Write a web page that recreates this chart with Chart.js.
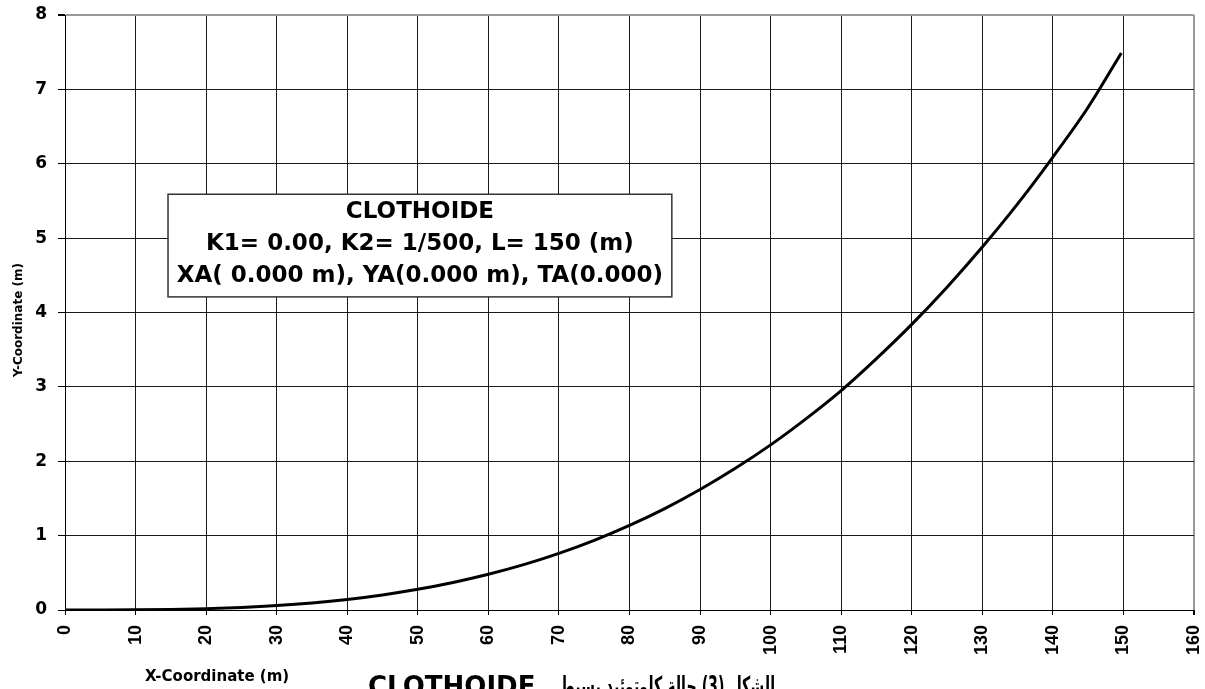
<!DOCTYPE html>
<html>
<head>
<meta charset="utf-8">
<title>Clothoide</title>
<script src="https://cdn.jsdelivr.net/npm/chart.js@4.4.1/dist/chart.umd.min.js"></script>
<style>
  html, body { margin: 0; padding: 0; background: #fff; }
  canvas { display: block; }
</style>
</head>
<body>
<canvas id="clothoidChart" width="1205" height="689"></canvas>
<script>
// values (x in m, y in m)
var xValues = [0, 5, 10, 15, 20, 25, 30, 35, 40, 45, 50, 55, 60, 65, 70, 75,
               80, 85, 90, 95, 100, 105, 110, 115, 120, 125, 130, 135, 140, 145, 149.7];
var yValues = [0, 0.0003, 0.002, 0.008, 0.018, 0.035, 0.06, 0.095, 0.142, 0.203, 0.278, 0.37, 0.48, 0.61, 0.762, 0.937,
               1.138, 1.364, 1.62, 1.905, 2.22, 2.57, 2.95, 3.38, 3.84, 4.34, 4.88, 5.46, 6.09, 6.76, 7.49];

var xAxisTitle = 'X-Coordinate (m)';
var yAxisTitle = 'Y-Coordinate (m)';
var captionLatin = 'CLOTHOIDE';
var captionArabic = 'الشكل (3) حالة كلوتوئيد بسيط';
var boxLines = ['CLOTHOIDE', 'K1= 0.00, K2= 1/500, L= 150 (m)', 'XA( 0.000 m), YA(0.000 m), TA(0.000)'];

var points = [];
for (var i = 0; i <= xValues.length - 1; i++) {
    points.push({ x: xValues[i], y: yValues[i] });
}

var boldFont = '"DejaVu Sans", "Liberation Sans", Arial, sans-serif';

// titles and the text box are drawn by hand, the way the original sits them
var decorations = {
    id: 'decorations',
    afterDraw: function (chart) {
        var ctx = chart.ctx;
        var xs = chart.scales.x;
        var ys = chart.scales.y;
        ctx.save();

        // text box
        var bx1 = xs.getPixelForValue(14.6), bx2 = xs.getPixelForValue(86.0);
        var by1 = ys.getPixelForValue(5.59), by2 = ys.getPixelForValue(4.21);
        ctx.fillStyle = '#fff';
        ctx.fillRect(bx1, by1, bx2 - bx1, by2 - by1);
        ctx.strokeStyle = '#333';
        ctx.lineWidth = 1.5;
        ctx.strokeRect(bx1, by1, bx2 - bx1, by2 - by1);
        ctx.fillStyle = '#000';
        ctx.font = 'bold 23px ' + boldFont;
        ctx.textAlign = 'center';
        ctx.textBaseline = 'alphabetic';
        var cx = (bx1 + bx2) / 2;
        for (var k = 0; k < boxLines.length; k++) {
            ctx.fillText(boxLines[k], cx, by1 + 24 + k * 32);
        }

        // x axis title
        ctx.font = 'bold 15px ' + boldFont;
        ctx.textAlign = 'left';
        ctx.fillText(xAxisTitle, 145, 681);

        // y axis title
        ctx.save();
        ctx.translate(22, 320);
        ctx.rotate(-Math.PI / 2);
        ctx.font = 'bold 12px ' + boldFont;
        ctx.textAlign = 'center';
        ctx.fillText(yAxisTitle, 0, 0);
        ctx.restore();

        // bottom caption (cut by the picture edge)
        ctx.font = 'bold 26px ' + boldFont;
        ctx.textAlign = 'left';
        ctx.fillText(captionLatin, 368, 695);
        // arabic part is squeezed, DejaVu arabic runs much wider than the original font
        ctx.save();
        ctx.direction = 'rtl';
        ctx.textAlign = 'left';
        var w = ctx.measureText(captionArabic).width;
        ctx.translate(560, 695);
        ctx.scale(215 / w, 1);
        ctx.fillText(captionArabic, 0, 0);
        ctx.restore();

        ctx.restore();
    }
};

function gridColor(last) {
    return function (c) { return c.tick && c.tick.value === last ? '#999' : '#1a1a1a'; };
}
function gridWidth(last) {
    return function (c) { return c.tick && c.tick.value === last ? 2 : 1; };
}

new Chart(document.getElementById('clothoidChart'), {
    type: 'scatter',
    data: {
        datasets: [{
            data: points,
            showLine: true,
            borderColor: '#000',
            borderWidth: 3,
            pointRadius: 0,
            cubicInterpolationMode: 'monotone'
        }]
    },
    options: {
        responsive: false,
        animation: false,
        layout: { padding: { left: 0, right: 11, top: 15, bottom: 0 } },
        plugins: {
            legend: { display: false },
            tooltip: { enabled: false }
        },
        scales: {
            x: {
                type: 'linear',
                min: 0,
                max: 160,
                afterFit: function (scale) {
                    scale.height = 79;
                    scale.paddingLeft = 0;
                    scale.paddingRight = 0;
                },
                border: { color: '#000', width: 1 },
                grid: { color: gridColor(160), lineWidth: gridWidth(160), tickLength: 5, tickColor: '#000' },
                ticks: {
                    stepSize: 10,
                    minRotation: 90,
                    maxRotation: 90,
                    padding: 10,
                    color: '#000',
                    font: { family: '"Liberation Sans", Arial, sans-serif', size: 18, weight: 'bold' }
                }
            },
            y: {
                min: 0,
                max: 8,
                afterFit: function (scale) {
                    scale.width = 65;
                    scale.paddingTop = 0;
                    scale.paddingBottom = 0;
                },
                border: { color: '#000', width: 1 },
                grid: { color: gridColor(8), lineWidth: gridWidth(8), tickLength: 7, tickColor: '#000' },
                ticks: {
                    stepSize: 1,
                    padding: 11,
                    color: '#000',
                    font: { family: boldFont, size: 17, weight: 'bold' }
                }
            }
        }
    },
    plugins: [decorations]
});
</script>
</body>
</html>
